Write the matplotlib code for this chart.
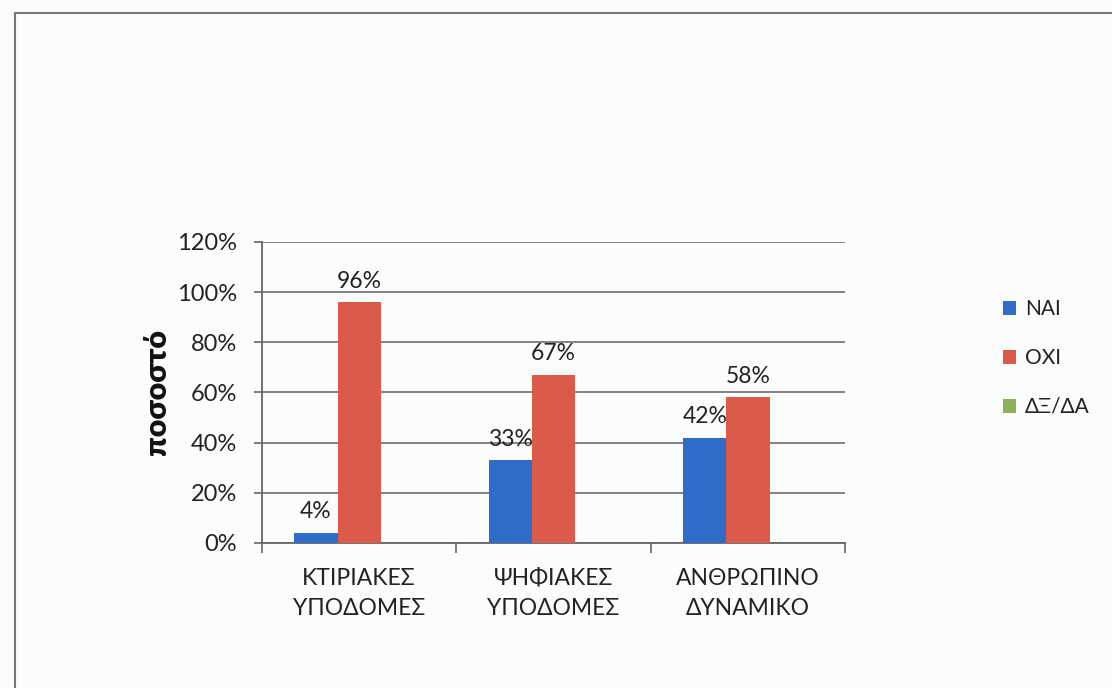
import matplotlib
matplotlib.use("Agg")
import matplotlib.pyplot as plt
import numpy as np
from matplotlib.ticker import FuncFormatter, FixedLocator
from matplotlib.patches import Patch
from matplotlib.lines import Line2D

categories = ["ΚΤΙΡΙΑΚΕΣ\nΥΠΟΔΟΜΕΣ", "ΨΗΦΙΑΚΕΣ\nΥΠΟΔΟΜΕΣ", "ΑΝΘΡΩΠΙΝΟ\nΔΥΝΑΜΙΚΟ"]
series_names = ["ΝΑΙ", "ΟΧΙ", "ΔΞ/ΔΑ"]
nai = [4, 33, 42]
oxi = [96, 67, 58]
dxda = [0, 0, 0]
colors = ["#2f6bc8", "#db5a4a", "#8db05a"]
ylabel = "ποσοστό"

plt.rcParams["font.family"] = ["Lato", "DejaVu Sans"]

fig = plt.figure(figsize=(11.12, 6.88), dpi=100)
fig.patch.set_facecolor("#fbfdfc")
ax = fig.add_axes([0.2356, 0.2108, 0.760 - 0.2356, 0.6483 - 0.2108])
ax.set_facecolor("none")

# outer frame of the chart area (left and top edges)
fig.add_artist(Line2D([0.0135, 0.0135], [0.0, 0.981], color="#777777", lw=1.5,
                      transform=fig.transFigure))
fig.add_artist(Line2D([0.0135, 1.0], [0.981, 0.981], color="#777777", lw=1.5,
                      transform=fig.transFigure))

x = np.arange(len(categories))
w = 1 / 4.5
data = [nai, oxi, dxda]
for i, (vals, c) in enumerate(zip(data, colors)):
    bars = ax.bar(x + (i - 1) * w, vals, width=w, color=c, zorder=3)
    if i < 2:
        for b, v in zip(bars, vals):
            ax.text(b.get_x() + b.get_width() / 2, v + 4.2, f"{v}%",
                    ha="center", va="bottom", fontsize=16.5, color="#222222")

ax.set_xlim(-0.5, len(categories) - 0.5)
ax.set_ylim(0, 120)
ax.set_yticks(np.arange(0, 121, 20))
ax.yaxis.set_major_formatter(FuncFormatter(lambda v, p: f"{int(v)}%"))
ax.yaxis.grid(True, color="#6e6e6e", lw=1.2, zorder=0)
ax.set_axisbelow(True)

ax.set_xticks(x)
ax.set_xticklabels(categories, fontsize=16.5, linespacing=1.55, color="#222222")
ax.tick_params(axis="x", length=0, pad=18)
ax.xaxis.set_minor_locator(FixedLocator(np.arange(-0.5, len(categories), 1)))
ax.tick_params(axis="x", which="minor", length=7, width=1.2, color="#666666", direction="out")
ax.tick_params(axis="y", length=6, width=1.2, color="#666666", labelsize=17,
               labelcolor="#222222", pad=12)

for s in ["top", "right"]:
    ax.spines[s].set_visible(False)
for s in ["left", "bottom"]:
    ax.spines[s].set_color("#666666")
    ax.spines[s].set_linewidth(1.3)

ax.set_ylabel(ylabel, fontsize=22, fontweight="heavy", labelpad=4, color="#111111")

handles = [Patch(facecolor=c, edgecolor="none") for c in colors]
fig.legend(handles, series_names, loc="upper left", bbox_to_anchor=(0.885, 0.592),
           frameon=False, fontsize=15, handlelength=0.65, handleheight=0.65,
           handletextpad=0.4, labelspacing=1.38, labelcolor="#222222")

fig.savefig("out.png", dpi=100, facecolor=fig.get_facecolor())
